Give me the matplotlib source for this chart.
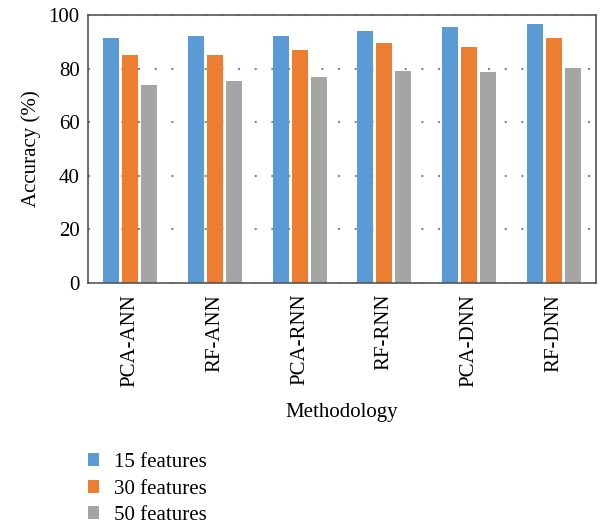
import numpy as np
import matplotlib.pyplot as plt

plt.rcParams['font.family'] = ['Liberation Serif', 'DejaVu Serif']

# data
methods = ['PCA-ANN', 'RF-ANN', 'PCA-RNN', 'RF-RNN', 'PCA-DNN', 'RF-DNN']
acc_15 = [91.6, 92.4, 92.4, 94.3, 95.8, 96.9]
acc_30 = [85.3, 85.3, 87.2, 89.8, 88.3, 91.6]
acc_50 = [74.0, 75.5, 77.0, 79.3, 78.9, 80.4]
series_labels = ['15 features', '30 features', '50 features']
colors = ['#5B9BD5', '#ED7D31', '#A5A5A5']

fig = plt.figure(figsize=(6.02, 5.27), dpi=100)
ax = fig.add_axes([0.146, 0.4636, 0.844, 0.507])

x = np.arange(len(methods))
w = 0.19
step = 0.224
bars = []
for i, (vals, lab, c) in enumerate(zip([acc_15, acc_30, acc_50], series_labels, colors)):
    b = ax.bar(x + (i - 1) * step, vals, width=w, color=c, label=lab, zorder=2)
    bars.append(b)

ax.set_xlim(-0.5, len(methods) - 0.5)
ax.set_ylim(0, 100)
ax.set_yticks(np.arange(0, 101, 20))
ax.set_xticks(x)
ax.set_xticklabels(methods, rotation=90, fontsize=15)
ax.tick_params(axis='y', labelsize=15, length=0, pad=6)
ax.tick_params(axis='x', length=0, pad=8)
ax.yaxis.grid(True, linestyle=(0, (1, 7)), linewidth=1.5, color='#888888', zorder=0)
ax.set_axisbelow(True)
for s in ax.spines.values():
    s.set_color('#555555')
    s.set_linewidth(1.2)
    s.set_zorder(3)

ax.set_ylabel('Accuracy (%)', fontsize=15, labelpad=5)
ax.set_xlabel('Methodology', fontsize=15, labelpad=12)

fig.legend(handles=bars, labels=series_labels, loc='upper left', bbox_to_anchor=(0.132, 0.156),
           frameon=False, fontsize=15, handlelength=0.55, handleheight=0.55,
           handletextpad=0.7, labelspacing=0.36, borderaxespad=0)

fig.savefig('out.png', dpi=100)
